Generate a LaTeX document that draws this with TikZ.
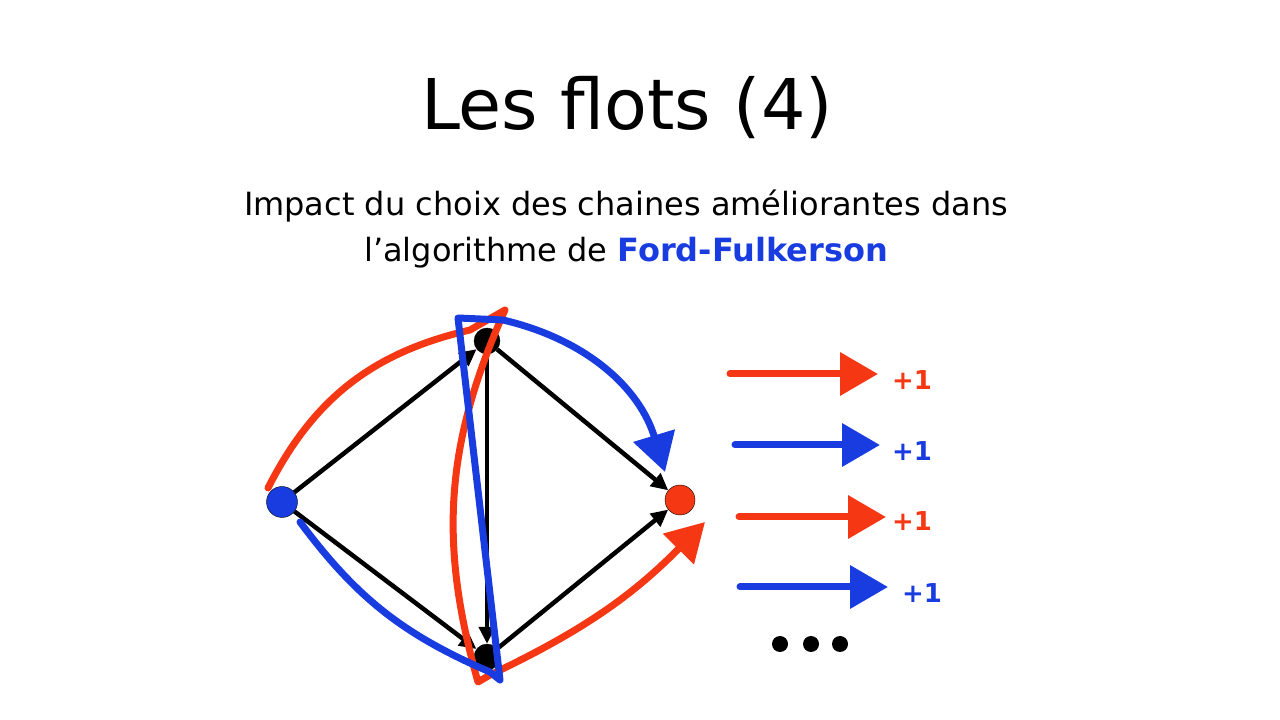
\documentclass[tikz,border=0pt]{standalone}
\usepackage{fontspec}
\setmainfont{DejaVu Sans}
\usetikzlibrary{arrows.meta}
\definecolor{pathred}{RGB}{245,55,20}
\definecolor{pathblue}{RGB}{25,60,225}

\begin{document}
\begin{tikzpicture}
            [x=1pt, y=1pt, >={Triangle[length=17pt,width=16pt]},
            rv/.style={circle, draw, thin, inner sep=0pt, minimum size=26pt},
            flow/.style={->, line width=4.5pt},
            chain/.style={line width=7pt, line cap=round, line join=round, -{Triangle[length=38pt,width=42pt]}},
            gain/.style={font=\bfseries\fontsize{26}{30}\selectfont},
            dot/.style={circle, fill=black, inner sep=0pt, minimum size=16pt}]
            \useasboundingbox (0,0) rectangle (1280,720);
            % titre
            \node[font=\fontsize{70}{80}\selectfont] (title) at (627,612) {Les flots (4)};
            \node[font=\fontsize{32}{46}\selectfont, align=center] (sub) at (626,491)
                {Impact du choix des chaines améliorantes dans\\ l'algorithme de \textcolor{pathblue}{\textbf{Ford-Fulkerson}}};
            % le reseau
            \node[rv, fill=pathblue, minimum size=31pt] (1) at (282,218) {};
            \node[rv, fill=black] (2) at (487,379) {};
            \node[rv, fill=black] (3) at (487,63) {};
            \node[rv, fill=pathred, minimum size=30pt] (4) at (680,220) {};
            \draw[flow] (1) -- (2);
            \draw[flow] (1) -- (3);
            \draw[flow] (2) -- (3);
            \draw[flow] (2) -- (4);
            \draw[flow] (3) -- (4);
            % chaine rouge
            \coordinate (r1) at (268,232);
            \coordinate (r2) at (470,390);
            \coordinate (r3) at (505,410);
            \coordinate (r4) at (478,38);
            \coordinate (r5) at (490,45);
            \coordinate (r6) at (705,198);
            \draw[chain, pathred] (r1) to[bend left=25] (r2) -- (r3) to[bend right=20] (r4) -- (r5) to[bend right=10] (r6);
            % chaine bleue
            \coordinate (b1) at (300,198);
            \coordinate (b2) at (490,48);
            \coordinate (b3) at (500,40);
            \coordinate (b4) at (458,402);
            \coordinate (b5) at (503,400);
            \coordinate (b6) at (665,248);
            \draw[chain, pathblue] (b1) to[bend right=15] (b2) -- (b3) -- (b4) -- (b5) to[bend left=30] (b6);
            % increments
            \coordinate (p1) at (730,346);
            \coordinate (q1) at (878,346);
            \coordinate (p2) at (735,275);
            \coordinate (q2) at (880,275);
            \coordinate (p3) at (739,203);
            \coordinate (q3) at (886,203);
            \coordinate (p4) at (740,133);
            \coordinate (q4) at (888,133);
            \draw[chain, pathred] (p1) -- (q1);
            \draw[chain, pathblue] (p2) -- (q2);
            \draw[chain, pathred] (p3) -- (q3);
            \draw[chain, pathblue] (p4) -- (q4);
            \node[gain, pathred] (g1) at (912,340) {+1};
            \node[gain, pathblue] (g2) at (912,269) {+1};
            \node[gain, pathred] (g3) at (912,199) {+1};
            \node[gain, pathblue] (g4) at (922,127) {+1};
            \foreach \x [count=\i] in {780,811,840}
                \node[dot] (d\i) at (\x,76) {};
            \end{tikzpicture}
\end{document}
